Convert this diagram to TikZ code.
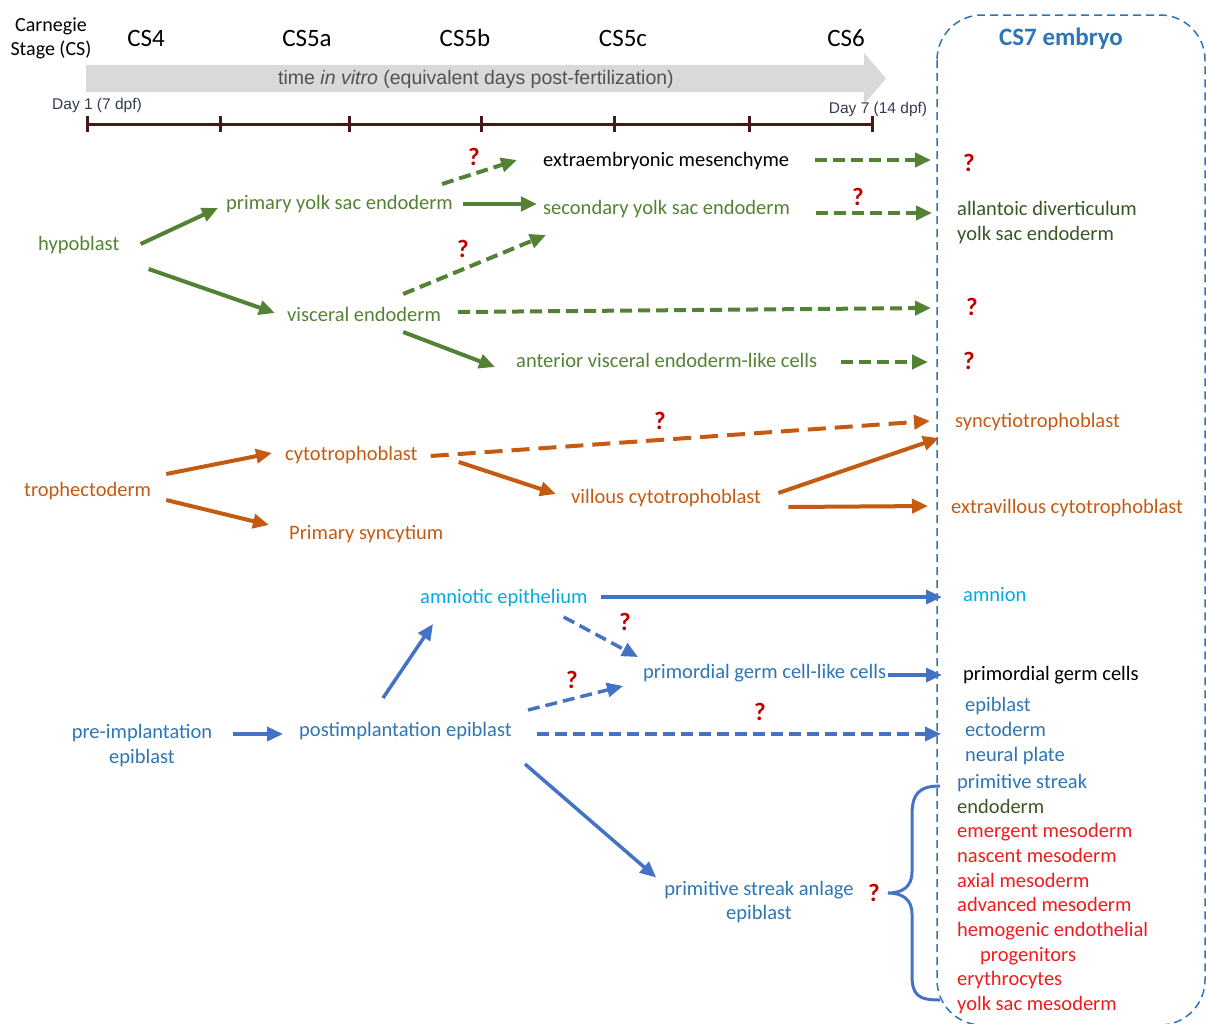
\documentclass[tikz,border=0pt]{standalone}
\usepackage{fontspec}
\setmainfont{Carlito}
\newfontfamily\arialf{Liberation Sans}
\usetikzlibrary{arrows.meta}
\definecolor{gA}{RGB}{84,130,53}
\definecolor{gT}{RGB}{84,130,53}
\definecolor{gD}{RGB}{56,87,35}
\definecolor{oA}{RGB}{197,90,17}
\definecolor{bA}{RGB}{68,114,196}
\definecolor{bT}{RGB}{46,117,182}
\definecolor{lB}{RGB}{0,170,230}
\definecolor{qR}{RGB}{192,0,0}
\definecolor{rT}{RGB}{238,28,28}
\definecolor{tlc}{RGB}{70,25,25}
\definecolor{grayA}{RGB}{217,217,217}
\definecolor{dayc}{RGB}{50,60,80}
\begin{document}
\begin{tikzpicture}[x=1pt,y=-1pt,
  lbl/.style={inner sep=0pt, text height=18pt, text depth=4pt, font=\fontsize{20.5}{24.6}\selectfont, anchor=west},
  lblc/.style={inner sep=0pt, font=\fontsize{20.5}{24.4}\selectfont, align=center, anchor=center},
  qm/.style={inner sep=0pt, font=\fontsize{25}{27}\selectfont\bfseries, text=qR},
  sarr/.style={line width=4pt, -{Triangle[length=16pt,width=14pt]}},
  darr/.style={sarr, dash pattern=on 12pt off 6pt},
  csl/.style={inner sep=0pt, anchor=base, font=\fontsize{25}{28}\selectfont},
  dayl/.style={inner sep=0pt, anchor=base, text=dayc, font=\arialf\fontsize{15.5}{18}\selectfont},
]
\useasboundingbox (0,0) rectangle (1206,1023);

% CS7 box
\draw[bT, line width=1.5pt, dash pattern=on 8pt off 5pt, rounded corners=45pt] (937,15) rectangle (1205,1025);
\node[csl, font=\fontsize{25}{28}\selectfont\bfseries, text=bT] (cs7) at (1061,45) {CS7 embryo};

% header
\node[lblc, font=\fontsize{20}{24}\selectfont] (carn) at (51,38) {Carnegie\\Stage (CS)};
\node[csl] (cs4) at (146,46) {CS4};
\node[csl] (cs5a) at (307,46) {CS5a};
\node[csl] (cs5b) at (465,46) {CS5b};
\node[csl] (cs5c) at (623,46) {CS5c};
\node[csl] (cs6) at (846,46) {CS6};

% time arrow
\fill[grayA] (86,65) -- (864,65) -- (864,53) -- (886,78.5) -- (864,104) -- (864,92) -- (86,92) -- cycle;
\node[inner sep=0pt, text=black!68, font=\arialf\fontsize{19.5}{22}\selectfont] (tiv) at (476,79.5) {time \textit{in vitro} (equivalent days post-fertilization)};
\node[dayl] (d1) at (97,109) {Day 1 (7 dpf)};
\node[dayl] (d7) at (878,113) {Day 7 (14 dpf)};

% timeline
\draw[tlc, line width=3pt] (87,124) -- (872,124);
\foreach \x in {87,220,349,481,614,749,872} \draw[tlc, line width=3pt] (\x,116) -- (\x,132);

% ---------- green ----------
\node[lbl,text=black] (ext) at (543,159) {extraembryonic mesenchyme};
\node[lbl,text=gT] (pyse) at (226,202) {primary yolk sac endoderm};
\node[lbl,text=gT] (syse) at (543,207) {secondary yolk sac endoderm};
\node[lbl,text=gT] (hypo) at (38,243) {hypoblast};
\node[lbl,text=gT] (ve) at (287,314) {visceral endoderm};
\node[lbl,text=gT] (ave) at (516,360) {anterior visceral endoderm-like cells};
\node[lbl,text=gD] (allan) at (957,208) {allantoic diverticulum};
\node[lbl,text=gD] (ysend) at (957,233) {yolk sac endoderm};
\node[qm] (q1) at (969,163) {?};
\node[qm] (q3) at (972,307) {?};
\node[qm] (q4) at (969,361) {?};
\node[qm] (qa) at (474,157) {?};
\node[qm] (qb) at (858,197) {?};
\node[qm] (qc) at (463,249) {?};

\draw[sarr,gA] ([shift={(21,1)}]hypo.east) -- ([shift={(-8,6)}]pyse.west);
\draw[sarr,gA] ([shift={(29,26)}]hypo.east) -- ([shift={(-12,-1)}]ve.west);
\draw[sarr,gA] ([shift={(10,2)}]pyse.east) -- ([shift={(-6,-3)}]syse.west);
\draw[darr,gA] ([shift={(-11,-18)}]pyse.east) -- ([shift={(-26,1)}]ext.west);
\draw[darr,gA] ([shift={(-38,-20)}]ve.east) -- ([shift={(3,28)}]syse.west);
\draw[darr,gA] ([shift={(17,-2)}]ve.east) -- ([shift={(-35,1)}]q3.west);
\draw[sarr,gA] ([shift={(-38,18)}]ve.east) -- ([shift={(-21,7)}]ave.west);
\draw[darr,gA] ([shift={(26,1)}]ext.east) -- ([shift={(-32,-3)}]q1.west);
\draw[darr,gA] ([shift={(26,6)}]syse.east) -- ([shift={(-25,5)}]allan.west);
\draw[darr,gA] ([shift={(24,2)}]ave.east) -- ([shift={(-35,1)}]q4.west);

% ---------- orange ----------
\node[lbl,text=oA] (troph) at (24,489) {trophectoderm};
\node[lbl,text=oA] (cyto) at (285,453) {cytotrophoblast};
\node[lbl,text=oA] (psync) at (289,532) {Primary syncytium};
\node[lbl,text=oA] (vill) at (571,496) {villous cytotrophoblast};
\node[lbl,text=oA] (sync) at (955,420) {syncytiotrophoblast};
\node[lbl,text=oA] (evct) at (951,506) {extravillous cytotrophoblast};
\node[qm] (qo) at (660,421) {?};

\draw[sarr,oA] ([shift={(15,-15)}]troph.east) -- ([shift={(-13,0)}]cyto.west);
\draw[sarr,oA] ([shift={(15,11)}]troph.east) -- ([shift={(-20,-7)}]psync.west);
\draw[darr,oA,dash pattern=on 18pt off 9pt] ([shift={(13,3)}]cyto.east) -- ([shift={(-25,1)}]sync.west);
\draw[sarr,oA] ([shift={(41,9)}]cyto.east) -- ([shift={(-15,-2)}]vill.west);
\draw[sarr,oA] ([shift={(17,-3)}]vill.east) -- ([shift={(-16,18)}]sync.west);
\draw[sarr,oA] ([shift={(27,11)}]vill.east) -- ([shift={(-23,0)}]evct.west);

% ---------- blue ----------
\node[lbl,text=lB] (amnep) at (420,596) {amniotic epithelium};
\node[lbl,text=lB] (amnion) at (963,594) {amnion};
\node[lbl,text=bT] (pgclc) at (643,671) {primordial germ cell-like cells};
\node[lbl,text=black] (pgc) at (963,673) {primordial germ cells};
\node[lblc,text=bT] (preimp) at (142,745.5) {pre-implantation\\epiblast};
\node[lbl,text=bT] (postimp) at (299,729) {postimplantation epiblast};
\node[lbl,text=bT] (epiA) at (965,704) {epiblast};
\node[lbl,text=bT] (ecto) at (965,729) {ectoderm};
\node[lbl,text=bT] (neural) at (965,754) {neural plate};
\node[lblc,text=bT] (psa) at (759,902) {primitive streak anlage\\epiblast};
\node[qm] (qd) at (625,622) {?};
\node[qm] (qe) at (572,680) {?};
\node[qm] (qf) at (760,712) {?};
\node[qm] (qg) at (874,893) {?};

\node[lbl,text=bT] (ps) at (957,781) {primitive streak};
\node[lbl,text=gD] (endo) at (957,806) {endoderm};
\node[lbl,text=rT] (emerg) at (957,830) {emergent mesoderm};
\node[lbl,text=rT] (nasc) at (957,855) {nascent mesoderm};
\node[lbl,text=rT] (axial) at (957,880) {axial mesoderm};
\node[lbl,text=rT] (adv) at (957,904) {advanced mesoderm};
\node[lbl,text=rT] (hemo) at (957,929) {hemogenic endothelial};
\node[lbl,text=rT] (prog) at (980,954) {progenitors};
\node[lbl,text=rT] (ery) at (957,978) {erythrocytes};
\node[lbl,text=rT] (ysm) at (957,1003) {yolk sac mesoderm};

\draw[sarr,bA,line width=3.5pt] ([shift={(-66,5)}]postimp.west) -- ([shift={(-16,5)}]postimp.west);
\draw[sarr,bA,line width=3.5pt] ([shift={(84,-31)}]postimp.west) -- ([shift={(13,28)}]amnep.west);
\draw[sarr,bA,line width=3.5pt] ([shift={(13,1)}]amnep.east) -- ([shift={(-21,3)}]amnion.west);
\draw[darr,bA,line width=3.5pt] ([shift={(-24,21)}]amnep.east) -- ([shift={(-5,-14)}]pgclc.west);
\draw[darr,bA,line width=3.5pt] ([shift={(16,-19)}]postimp.east) -- ([shift={(-20,15)}]pgclc.west);
\draw[sarr,bA,line width=3.5pt] ([shift={(2,4)}]pgclc.east) -- ([shift={(-21,2)}]pgc.west);
\draw[darr,bA,line width=3.5pt] ([shift={(25,5)}]postimp.east) -- ([shift={(-24,5)}]ecto.west);
\draw[sarr,bA,line width=3.5pt] ([shift={(13,35)}]postimp.east) -- ([shift={(-8,-24.5)}]psa.west);

% brace
\draw[bA, line width=3pt] (940,786) .. controls (918,786) and (912,795) .. (912,815) -- (912,872)
  .. controls (912,887) and (902,893) .. (888,893)
  .. controls (902,893) and (912,899) .. (912,914) -- (912,975)
  .. controls (912,995) and (918,1000) .. (940,1000);
\end{tikzpicture}
\end{document}
